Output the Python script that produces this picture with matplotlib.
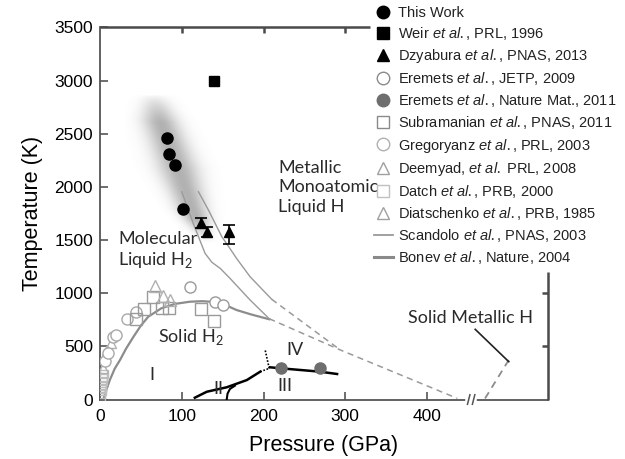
import numpy as np
import matplotlib
matplotlib.use('Agg')
import matplotlib.pyplot as plt
from matplotlib.lines import Line2D

plt.rcParams['font.family'] = ['Liberation Sans', 'DejaVu Sans']
plt.rcParams['mathtext.fontset'] = 'custom'
plt.rcParams['mathtext.rm'] = 'Lato'
plt.rcParams['mathtext.it'] = 'Liberation Sans:italic'

# ---------------- data ----------------
this_work_P = [82, 85, 92, 101.5]
this_work_T = [2460, 2310, 2205, 1795]

weir_P = [140]
weir_T = [3000]

dzy_P = [123, 130.6, 158]
dzy_T = [1660, 1580, 1580]
dzy_err_lo = [45, 50, 115]
dzy_err_hi = [45, 45, 65]

eremets09_P = [110, 141, 150]
eremets09_T = [1055, 920, 893]

eremets11_P = [222, 269]
eremets11_T = [293, 298]

subram_P = [44, 54, 65, 75.5, 84, 124, 140]
subram_T = [760, 849, 963, 860, 858, 853, 738]

gregoryanz_P = [6, 9.5, 16, 20, 33, 44]
gregoryanz_T = [358, 438, 588, 603, 757, 822]

deemyad_P = [67, 77.5, 85.7]
deemyad_T = [1068, 972, 936]

datch_P = [1, 1.5, 2, 2.5, 3, 3.5, 4, 5]
datch_T = [20, 50, 80, 110, 140, 170, 200, 240]

diatschenko_P = [4, 6, 9, 13]
diatschenko_T = [300, 400, 470, 530]

# melting curve (Bonev)
bonev_P = [4, 8, 12, 18, 24.5, 32, 41, 50, 59, 75, 92, 110, 125, 139, 153, 167, 185, 207]
bonev_T = [0, 95, 183, 290, 372, 480, 591, 695, 779, 858, 900, 920, 925, 918, 890, 842, 800, 755]

# liquid-liquid lines (Scandolo)
scan1_P = [100, 114, 128.5, 137, 147, 159, 183.6, 207]
scan1_T = [1955, 1658, 1375, 1290, 1234, 1140, 936, 760]
scan2_P = [120.4, 132.6, 149, 159, 167, 183.6, 210]
scan2_T = [1955, 1783, 1532, 1420, 1328, 1155, 943]

# extrapolations (dashed)
dash_up_P = [210, 294]
dash_up_T = [943, 466]
dash_lo_P = [207, 294, 437]
dash_lo_T = [760, 466, 11]
metal_P = [471, 500]
metal_T = [10, 372]
pointer_P = [459, 500]
pointer_T = [660, 356]

# solid phase boundaries
b12_P = [116, 130.6, 155, 179.6, 196]
b12_T = [17, 73, 115, 183, 262]
b12dot_P = [196, 207]
b12dot_T = [262, 293]
b23_P = [155, 156, 159, 165]
b23_T = [0, 55, 100, 130]
b34dot_P = [207, 202]
b34dot_T = [293, 466]
b34_P = [208, 222, 269, 290]
b34_T = [303, 293, 262, 240]

# shaded band centre line
band_T = [1500, 1600, 1780, 2160, 2630, 2900]
band_P = [130, 122, 112, 95, 72, 64]
band_w = [9, 13, 18, 24, 21, 15]

# axis frame pieces
x_ticks = [0, 100, 200, 300, 400]
y_ticks = [0, 500, 1000, 1500, 2000, 2500, 3000, 3500]
top_ticks = [100, 200, 300]
top_spine_end = 330
right_ticks = [500, 1000]
right_spine_end = 1200
x_max = 548
y_max = 3504
break_at = 453.5

# ---------------- figure ----------------
fig = plt.figure(figsize=(6.25, 4.59), dpi=100)
ax = fig.add_axes([0.16, 0.1296, 0.7168, 0.8115])

# shaded band
Tg = np.linspace(1450, 2950, 400)
Pg = np.linspace(30, 160, 300)
PP, TT = np.meshgrid(Pg, Tg)
Pc = np.interp(TT, band_T, band_P)
Wc = np.interp(TT, band_T, band_w)
I = np.exp(-1.0 * ((PP - Pc) / Wc) ** 2)
taper = np.clip((2860 - TT) / 260, 0, 1) ** 0.7 * np.clip((TT - 1470) / 220, 0, 1)
I = I * taper
img = np.zeros(I.shape + (4,))
img[..., :3] = 0.45
img[..., 3] = 0.55 * I
ax.imshow(img, extent=[30, 160, 1450, 2950], origin='lower', aspect='auto',
          interpolation='bilinear', zorder=0)

gray_line = '#9a9a9a'
ax.plot(bonev_P, bonev_T, color='#8c8c8c', lw=1.6, zorder=2)
ax.plot(scan1_P, scan1_T, color=gray_line, lw=1.0, zorder=2)
ax.plot(scan2_P, scan2_T, color=gray_line, lw=1.0, zorder=2)
ax.plot(dash_up_P, dash_up_T, color=gray_line, lw=1.1, ls=(0, (4, 3)), zorder=2)
ax.plot(dash_lo_P, dash_lo_T, color=gray_line, lw=1.1, ls=(0, (4, 3)), zorder=2)
ax.plot(metal_P, metal_T, color='#8c8c8c', lw=1.3, ls=(0, (4, 3)), zorder=2, clip_on=False)
ax.plot(pointer_P, pointer_T, color='#222222', lw=1.2, zorder=2)

# phase boundaries
ax.plot(b12_P, b12_T, color='black', lw=1.8, zorder=3)
ax.plot(b12dot_P, b12dot_T, color='black', lw=1.2, ls=(0, (1, 1)), zorder=3)
ax.plot(b23_P, b23_T, color='black', lw=1.5, zorder=3)
ax.plot(b34dot_P, b34dot_T, color='black', lw=1.2, ls=(0, (1, 1)), zorder=3)
ax.plot(b34_P, b34_T, color='black', lw=1.8, zorder=3)

# markers
st = dict(ls='none', zorder=4)
ax.plot(datch_P, datch_T, marker='s', ms=6, mfc='none', mec='#bdbdbd', mew=1, **st)
ax.plot(diatschenko_P, diatschenko_T, marker='^', ms=7, mfc='none', mec='#b0b0b0', mew=1, **st)
ax.plot(gregoryanz_P, gregoryanz_T, marker='o', ms=8, mfc='white', mec='#a8a8a8', mew=1, **st)
ax.plot(subram_P, subram_T, marker='s', ms=8, mfc='none', mec='#9a9a9a', mew=1, **st)
ax.plot(deemyad_P, deemyad_T, marker='^', ms=8, mfc='none', mec='#b0b0b0', mew=1, **st)
ax.plot(eremets09_P, eremets09_T, marker='o', ms=8, mfc='white', mec='#9a9a9a', mew=1, **st)
ax.plot(eremets11_P, eremets11_T, marker='o', ms=8, mfc='#6e6e6e', mec='#6e6e6e', **st)
ax.plot(this_work_P, this_work_T, marker='o', ms=8, mfc='black', mec='black', **st)
ax.plot(weir_P, weir_T, marker='s', ms=6.5, mfc='black', mec='black', **st)
ax.errorbar(dzy_P, dzy_T, yerr=[dzy_err_lo, dzy_err_hi], fmt='^', ms=7,
            color='black', ecolor='black', elinewidth=1.2, capsize=4, capthick=1.2, zorder=4)

# region labels
lab = dict(family='Lato', color='#2a2a2a', zorder=5)
ax.text(218, 1995, "Metallic\nMonoatomic\nLiquid H", ha='left', va='center',
        fontsize=13, linespacing=1.25, **lab)
ax.text(22, 1400, "Molecular\nLiquid H$_2$", ha='left', va='center',
        fontsize=13, linespacing=1.2, **lab)
ax.text(71, 585, "Solid H$_2$", ha='left', va='center', fontsize=13, **lab)
ax.text(63, 230, "I", ha='center', va='center', fontsize=13, **lab)
ax.text(145, 95, "II", ha='center', va='center', fontsize=13, **lab)
ax.text(226, 130, "III", ha='center', va='center', fontsize=13, **lab)
ax.text(239, 466, "IV", ha='center', va='center', fontsize=13, **lab)
ax.text(453, 770, "Solid Metallic H", ha='center', va='center', fontsize=13, **lab)

# axes styling
spc = '#555555'
for s in ['top', 'right']:
    ax.spines[s].set_visible(False)
for s in ['left', 'bottom']:
    ax.spines[s].set_color(spc)
    ax.spines[s].set_linewidth(1.3)
ax.set_xticks(x_ticks)
ax.set_yticks(y_ticks)
ax.tick_params(direction='in', length=6, width=1.2, color=spc,
               labelsize=12.5, pad=5, top=False, right=False)
ax.tick_params(axis='x', pad=7)
ax.set_xlim(0, x_max)
ax.set_ylim(0, y_max)

# partial top / right frame with inward ticks (data coordinates)
dy = 6 * y_max / (0.8115 * 459)
dx = 6 * x_max / (0.7168 * 625)
y_top = y_max - 4
frame_kw = dict(color='#4a4a4a', lw=1.8, clip_on=False, zorder=8, solid_capstyle='butt')
ax.plot([0, top_spine_end], [y_top, y_top], **frame_kw)
for t in top_ticks:
    ax.plot([t, t], [y_top, y_top - dy], **frame_kw)
ax.plot([x_max, x_max], [0, right_spine_end], **frame_kw)
for t in right_ticks:
    ax.plot([x_max, x_max - dx], [t, t], **frame_kw)

# axis break
ax.plot([break_at - 3, break_at + 4], [0, 0], color='white', lw=4, clip_on=False, zorder=9)
for p0 in [break_at - 4, break_at + 2]:
    ax.plot([p0, p0 + 3], [-45, 45], color=spc, lw=1.1, clip_on=False, zorder=10)

ax.set_xlabel("Pressure (GPa)", fontsize=15.5, labelpad=8)
ax.set_ylabel("Temperature (K)", fontsize=15.5, labelpad=8)

# legend
handles = [
    Line2D([], [], ls='none', marker='o', ms=9, mfc='black', mec='black'),
    Line2D([], [], ls='none', marker='s', ms=8, mfc='black', mec='black'),
    Line2D([], [], ls='none', marker='^', ms=9, mfc='black', mec='black'),
    Line2D([], [], ls='none', marker='o', ms=9, mfc='white', mec='#8a8a8a'),
    Line2D([], [], ls='none', marker='o', ms=9, mfc='#6e6e6e', mec='#6e6e6e'),
    Line2D([], [], ls='none', marker='s', ms=8.5, mfc='white', mec='#8a8a8a'),
    Line2D([], [], ls='none', marker='o', ms=9, mfc='white', mec='#b0b0b0'),
    Line2D([], [], ls='none', marker='^', ms=9, mfc='white', mec='#a0a0a0'),
    Line2D([], [], ls='none', marker='s', ms=8.5, mfc='white', mec='#c0c0c0'),
    Line2D([], [], ls='none', marker='^', ms=9, mfc='white', mec='#a0a0a0'),
    Line2D([], [], color='#9a9a9a', lw=1.3),
    Line2D([], [], color='#8a8a8a', lw=2.2),
]
labels = [
    "This Work",
    r"Weir $\mathit{et\ al.}$, PRL, 1996",
    r"Dzyabura $\mathit{et\ al.}$, PNAS, 2013",
    r"Eremets $\mathit{et\ al.}$, JETP, 2009",
    r"Eremets $\mathit{et\ al.}$, Nature Mat., 2011",
    r"Subramanian $\mathit{et\ al.}$, PNAS, 2011",
    r"Gregoryanz $\mathit{et\ al.}$, PRL, 2003",
    r"Deemyad, $\mathit{et\ al.}$ PRL, 2008",
    r"Datch $\mathit{et\ al.}$, PRB, 2000",
    r"Diatschenko $\mathit{et\ al.}$, PRB, 1985",
    r"Scandolo $\mathit{et\ al.}$, PNAS, 2003",
    r"Bonev $\mathit{et\ al.}$, Nature, 2004",
]
fig.legend(handles, labels, loc='upper left', bbox_to_anchor=(0.598, 0.987),
           frameon=False, fontsize=10.5, borderpad=0, borderaxespad=0,
           handlelength=1.3, handletextpad=0.35, labelspacing=0.35,
           labelcolor='#222222')

fig.savefig('out.png', dpi=100)
